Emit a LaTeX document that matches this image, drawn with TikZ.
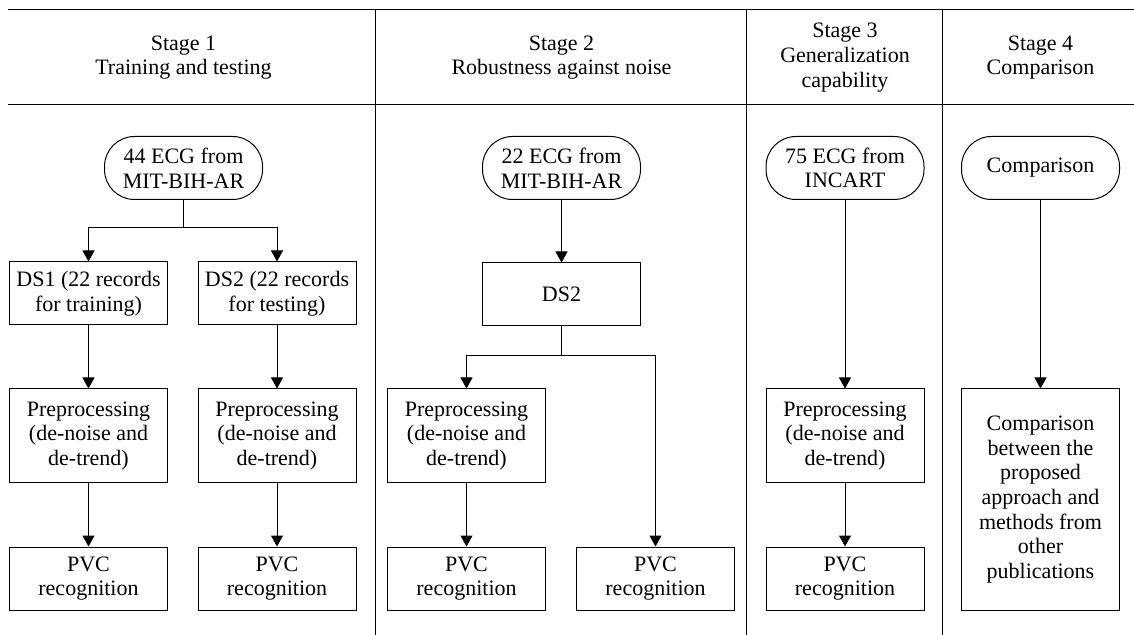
\documentclass[tikz,border=0pt]{standalone}
\usepackage{fontspec}
\setmainfont{Liberation Serif}
\usetikzlibrary{arrows.meta}
\begin{document}
\begin{tikzpicture}[
x=0.5pt, y=-0.5pt, line width=0.5pt,
>={Triangle[width=6pt,length=5.5pt]},
every node/.style={font=\fontsize{11}{12.3}\selectfont, align=center},
etapa/.style={inner sep=0pt},
fuente/.style={draw, rounded corners=15pt, minimum width=79pt, minimum height=31.5pt, inner sep=1pt},
caja/.style={draw, minimum width=79pt, minimum height=31.5pt, inner sep=1pt},
alta/.style={minimum height=47pt}
]
\useasboundingbox (0,0) rectangle (1134,635);
% Marco
\draw (8,10) -- (1134,10);
\draw (8,105) -- (1134,105);
\draw (375,10) -- (375,635);
\draw (746,10) -- (746,635);
\draw (942,10) -- (942,635);
% Etapas
\node[etapa] (etapa1) at (183.5,57.5) {Stage 1\\Training and testing};
\node[etapa] (etapa2) at (561.5,57.5) {Stage 2\\Robustness against noise};
\node[etapa] (etapa3) at (845,57.5) {Stage 3\\Generalization\\capability};
\node[etapa] (etapa4) at (1040.5,57.5) {Stage 4\\Comparison};
% Etapa 1
\node[fuente] (ecg1) at (183.5,168) {44 ECG from\\MIT-BIH-AR};
\coordinate (rama1) at (183.5,228);
\node[caja] (ds1) at (88.5,293.5) {DS1 (22 records\\for training)};
\node[caja] (ds2) at (277,293.5) {DS2 (22 records\\for testing)};
\node[caja, alta] (prep1) at (88.5,436) {Preprocessing\\(de-noise and\\de-trend)};
\node[caja, alta] (prep2) at (277,436) {Preprocessing\\(de-noise and\\de-trend)};
\node[caja] (pvc1) at (88.5,578.5) {PVC\\recognition};
\node[caja] (pvc2) at (277,578.5) {PVC\\recognition};
% Etapa 2
\node[fuente] (ecg2) at (561.5,168) {22 ECG from\\MIT-BIH-AR};
\node[caja] (ds3) at (561.5,294.5) {DS2};
\coordinate (rama2) at (561.5,356);
\node[caja, alta] (prep3) at (466.5,436) {Preprocessing\\(de-noise and\\de-trend)};
\node[caja] (pvc3) at (466.5,578.5) {PVC\\recognition};
\node[caja] (pvc4) at (655.5,578.5) {PVC\\recognition};
% Etapa 3
\node[fuente] (ecg3) at (845,168) {75 ECG from\\INCART};
\node[caja, alta] (prep4) at (845,436) {Preprocessing\\(de-noise and\\de-trend)};
\node[caja] (pvc5) at (845,578.5) {PVC\\recognition};
% Etapa 4
\node[fuente] (comp) at (1040.5,168) {Comparison};
\node[caja, minimum height=110.5pt] (compara) at (1040.5,499.5) {Comparison\\between the\\proposed\\approach and\\methods from\\other\\publications};
% Aristas
\draw (ecg1) -- (rama1);
\draw[->] (rama1) -| (ds1);
\draw[->] (rama1) -| (ds2);
\draw[->] (ds1) to (prep1);
\draw[->] (ds2) to (prep2);
\draw[->] (prep1) to (pvc1);
\draw[->] (prep2) to (pvc2);
\draw[->] (ecg2) to (ds3);
\draw (ds3) -- (rama2);
\draw[->] (rama2) -| (prep3);
\draw[->] (rama2) -| (pvc4);
\draw[->] (prep3) to (pvc3);
\draw[->] (ecg3) to (prep4);
\draw[->] (prep4) to (pvc5);
\draw[->] (comp) to (compara);
\end{tikzpicture}
\end{document}
